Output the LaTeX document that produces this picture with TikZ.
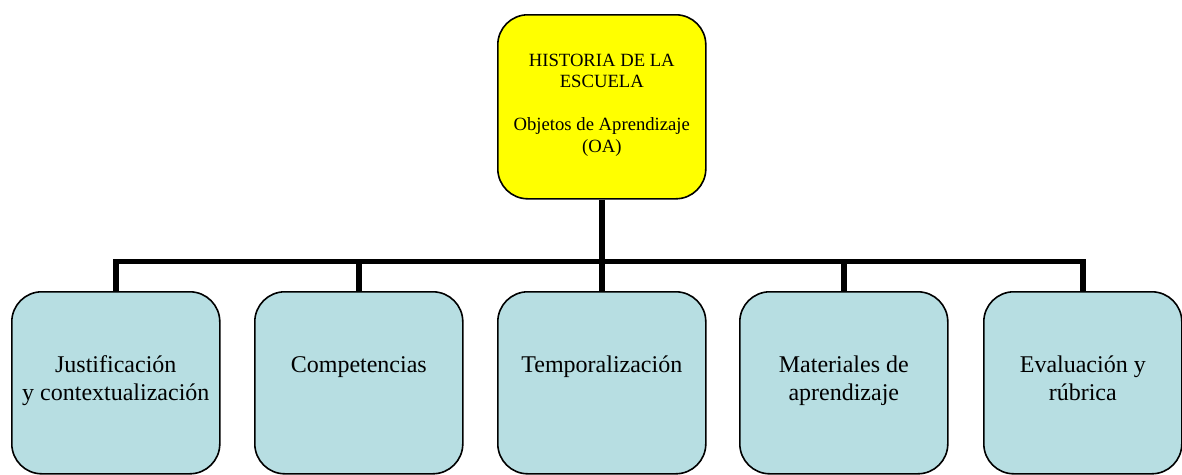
\documentclass[tikz,border=0pt]{standalone}
\usepackage{fontspec}
\setmainfont{Liberation Serif}
\definecolor{topyellow}{RGB}{255,255,0}
\definecolor{boxblue}{RGB}{183,222,226}
\begin{document}
\begin{tikzpicture}[x=1pt,y=-1pt,
  box/.style={draw=black,line width=1.6pt,rounded corners=30pt,inner sep=0pt,anchor=north west},
  topbox/.style={box,fill=topyellow,minimum width=208pt,minimum height=184pt},
  subbox/.style={box,fill=boxblue,minimum width=208pt,minimum height=182pt},
  toptext/.style={anchor=north,align=center,inner sep=0pt,font=\fontsize{18.67}{21.5}\selectfont},
  subtext/.style={anchor=north,align=center,inner sep=0pt,font=\fontsize{24}{28.5}\selectfont},
  conn/.style={draw=black,line width=5.5pt,line join=miter,line cap=butt}]
\useasboundingbox (0,0) rectangle (1182,474);
% top box
\node[topbox] (top) at (497,14) {};
\node[toptext] (toptxt) at ([yshift=-52pt+15.05pt]top.north) {\strut HISTORIA DE LA\\ESCUELA\\\mbox{}\\Objetos de Aprendizaje\\(OA)};
% bottom boxes
\node[subbox] (b1) at (11,291) {};
\node[subbox] (b2) at (254,291) {};
\node[subbox] (b3) at (497,291) {};
\node[subbox] (b4) at (739,291) {};
\node[subbox,minimum width=198pt] (b5) at (983,291) {};
\foreach \b/\t in {b1/{Justificación\\y contextualización},b2/{Competencias},b3/{Temporalización},b4/{Materiales de\\aprendizaje},b5/{Evaluación y\\rúbrica}}{
  \node[subtext] (\b txt) at ([yshift=-81pt+19.95pt]\b.north) {\strut\t};
}
% connectors
\draw[conn] (top.south) -- ([yshift=-62pt]top.south) coordinate (j);
\foreach \b in {b1,b2,b3,b4,b5}{
  \draw[conn] (\b.north) |- (j);
}
\end{tikzpicture}
\end{document}
